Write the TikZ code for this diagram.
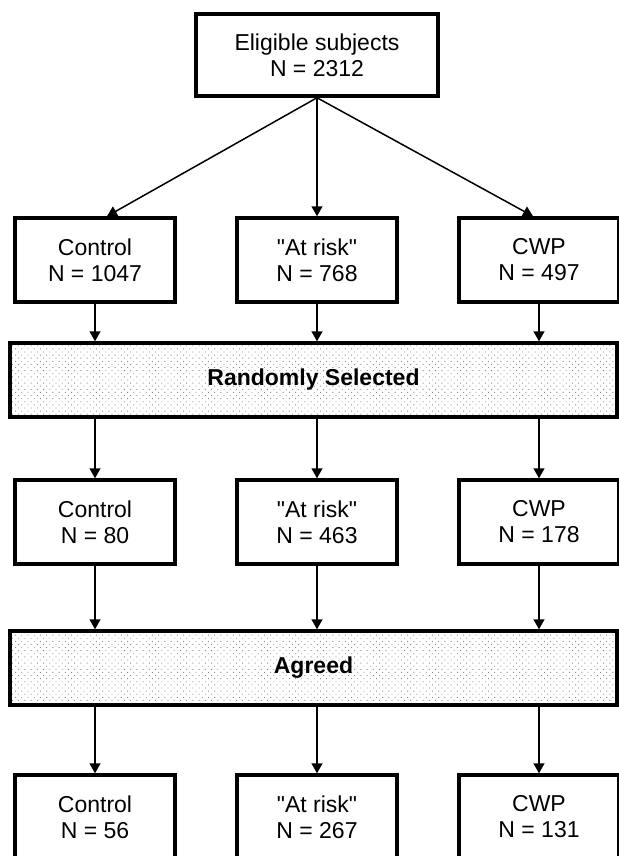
\documentclass[tikz,border=0pt]{standalone}
\usepackage{fontspec}
\setmainfont{Liberation Sans}
\usetikzlibrary{positioning, arrows.meta, patterns.meta}

\begin{document}
\begin{tikzpicture}[
    x=0.5pt, y=-0.5pt,
    box/.style={rectangle, draw=black, line width=1.75pt, fill=white,
                minimum width=80pt, minimum height=42pt, align=center,
                font=\fontsize{11.5}{13}\selectfont},
    band/.style={rectangle, draw=black, line width=1.75pt,
                 pattern={Dots[distance=2.2pt, angle=45, radius=0.32pt]}, pattern color=gray!90,
                 minimum width=303.5pt, minimum height=37pt,
                 font=\fontsize{11.5}{13}\selectfont\bfseries},
    arrow/.style={-{Triangle[length=5pt, width=5.5pt]}, line width=0.75pt}
]
    % Page frame
    \useasboundingbox (0,0) rectangle (619,856);
    \clip (0,0) rectangle (619,856);

    % Top box
    \node[box, minimum width=121pt, minimum height=41pt] (elig) at (317,55) {Eligible subjects\\N = 2312};

    % First groups
    \node[box] (ctrlA) at (95,260)  {Control\\N = 1047};
    \node[box] (riskA) at (317,260) {\textquotedbl At risk\textquotedbl\\N = 768};
    \node[box] (cwpA)  at (539,260) {CWP\\N = 497};

    % Selection band
    \node[band] (select) at (313.5,380) {Randomly Selected};

    % Selected groups
    \node[box] (ctrlB) at (95,522)  {Control\\N = 80};
    \node[box] (riskB) at (317,522) {\textquotedbl At risk\textquotedbl\\N = 463};
    \node[box] (cwpB)  at (539,522) {CWP\\N = 178};

    % Agreement band
    \node[band] (agree) at (313.5,668) {Agreed};

    % Final groups
    \node[box] (ctrlC) at (95,817)  {Control\\N = 56};
    \node[box] (riskC) at (317,817) {\textquotedbl At risk\textquotedbl\\N = 267};
    \node[box] (cwpC)  at (539,817) {CWP\\N = 131};

    % Arrows
    \draw[arrow] (elig.south) -- ([xshift=6pt]ctrlA.north);
    \draw[arrow] (elig.south) -- (riskA.north);
    \draw[arrow] (elig.south) -- ([xshift=-3pt]cwpA.north);

    \draw[arrow] (ctrlA.south) -- (ctrlA.south |- select.north);
    \draw[arrow] (riskA.south) -- (riskA.south |- select.north);
    \draw[arrow] (cwpA.south) -- (cwpA.south |- select.north);

    \draw[arrow] (ctrlB.north |- select.south) -- (ctrlB.north);
    \draw[arrow] (riskB.north |- select.south) -- (riskB.north);
    \draw[arrow] (cwpB.north |- select.south) -- (cwpB.north);

    \draw[arrow] (ctrlB.south) -- (ctrlB.south |- agree.north);
    \draw[arrow] (riskB.south) -- (riskB.south |- agree.north);
    \draw[arrow] (cwpB.south) -- (cwpB.south |- agree.north);

    \draw[arrow] (ctrlC.north |- agree.south) -- (ctrlC.north);
    \draw[arrow] (riskC.north |- agree.south) -- (riskC.north);
    \draw[arrow] (cwpC.north |- agree.south) -- (cwpC.north);

\end{tikzpicture}
\end{document}
